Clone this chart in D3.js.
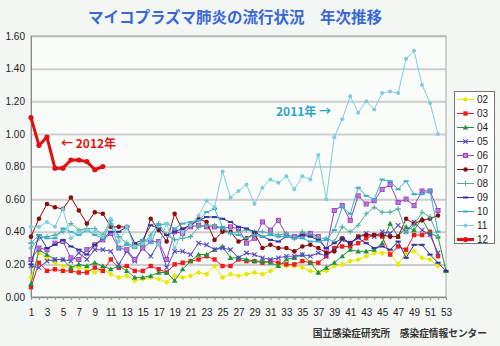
<!DOCTYPE html>
<html lang="ja">
<head>
<meta charset="utf-8">
<title>マイコプラズマ肺炎の流行状況 年次推移</title>
<script src="https://d3js.org/d3.v7.min.js"></script>
<style>
body { margin: 0; background: #f3f7f3; }
svg { display: block; }
</style>
</head>
<body>
<script>
// weekly reports per sentinel, 2002-2012
var yTicks = [0, 0.2, 0.4, 0.6, 0.8, 1.0, 1.2, 1.4, 1.6];
var weekLabels = d3.range(1, 54, 2);
var seriesNames = ["02", "03", "04", "05", "06", "07", "08", "09", "10", "11", "12"];

var s02 = [0.12,0.27,0.24,0.21,0.19,0.18,0.18,0.17,0.15,0.17,0.14,0.12,0.13,0.10,0.11,0.12,0.11,0.09,0.13,0.12,0.13,0.15,0.14,0.19,0.12,0.14,0.13,0.14,0.15,0.14,0.16,0.19,0.19,0.19,0.18,0.16,0.15,0.16,0.19,0.20,0.22,0.23,0.25,0.27,0.27,0.27,0.20,0.27,0.28,0.24,0.23,0.19];
var s03 = [0.06,0.21,0.16,0.17,0.16,0.16,0.15,0.15,0.18,0.16,0.23,0.18,0.19,0.16,0.16,0.19,0.17,0.15,0.20,0.21,0.22,0.23,0.25,0.23,0.19,0.19,0.23,0.22,0.22,0.21,0.22,0.21,0.20,0.20,0.22,0.21,0.21,0.25,0.30,0.31,0.31,0.33,0.36,0.38,0.37,0.26,0.31,0.29,0.38,0.38,0.40,0.25];
var s04 = [0.08,0.29,0.26,0.23,0.23,0.18,0.20,0.19,0.21,0.19,0.17,0.19,0.16,0.12,0.12,0.13,0.15,0.15,0.10,0.17,0.22,0.26,0.26,0.29,0.31,0.24,0.24,0.23,0.22,0.22,0.21,0.19,0.23,0.24,0.26,0.21,0.15,0.18,0.21,0.25,0.29,0.28,0.28,0.29,0.33,0.45,0.37,0.43,0.41,0.48,0.39,0.37,0.16];
var s05 = [0.19,0.18,0.22,0.23,0.23,0.22,0.27,0.23,0.29,0.29,0.28,0.20,0.28,0.22,0.30,0.25,0.33,0.18,0.28,0.28,0.26,0.33,0.32,0.29,0.30,0.29,0.24,0.27,0.26,0.24,0.23,0.24,0.25,0.25,0.26,0.25,0.27,0.25,0.29,0.35,0.33,0.37,0.39,0.37,0.40,0.39,0.44,0.40,0.46,0.41,0.38,0.27];
var s06 = [0.23,0.30,0.29,0.33,0.34,0.24,0.23,0.29,0.32,0.35,0.39,0.30,0.29,0.23,0.30,0.34,0.34,0.23,0.40,0.39,0.43,0.44,0.43,0.43,0.42,0.43,0.42,0.33,0.36,0.46,0.41,0.47,0.38,0.37,0.38,0.39,0.37,0.29,0.53,0.56,0.47,0.62,0.57,0.59,0.66,0.69,0.58,0.60,0.56,0.65,0.65,0.53];
var s07 = [0.37,0.48,0.57,0.55,0.54,0.61,0.53,0.45,0.52,0.51,0.43,0.43,0.43,0.32,0.33,0.48,0.41,0.34,0.51,0.41,0.44,0.48,0.46,0.35,0.40,0.40,0.34,0.36,0.39,0.30,0.32,0.30,0.30,0.28,0.31,0.32,0.30,0.27,0.28,0.36,0.33,0.37,0.38,0.38,0.38,0.37,0.37,0.48,0.45,0.47,0.48,0.50];
var s08 = [0.30,0.36,0.37,0.38,0.40,0.45,0.41,0.42,0.42,0.38,0.47,0.37,0.33,0.31,0.32,0.38,0.45,0.38,0.35,0.36,0.37,0.43,0.44,0.44,0.42,0.39,0.40,0.41,0.40,0.40,0.39,0.38,0.39,0.36,0.40,0.38,0.36,0.36,0.34,0.43,0.40,0.44,0.51,0.55,0.52,0.52,0.54,0.40,0.44,0.52,0.49,0.37];
var s09 = [0.20,0.38,0.30,0.32,0.35,0.31,0.29,0.26,0.32,0.36,0.40,0.40,0.43,0.33,0.35,0.44,0.42,0.38,0.40,0.42,0.44,0.47,0.49,0.49,0.48,0.46,0.43,0.42,0.40,0.37,0.35,0.34,0.37,0.36,0.38,0.37,0.35,0.30,0.33,0.36,0.33,0.36,0.33,0.30,0.31,0.29,0.34,0.24,0.32,0.32,0.26,0.21,0.16];
var s10 = [0.33,0.38,0.36,0.36,0.42,0.40,0.38,0.41,0.38,0.36,0.45,0.30,0.32,0.30,0.35,0.33,0.44,0.45,0.42,0.45,0.46,0.47,0.52,0.54,0.43,0.39,0.38,0.36,0.38,0.37,0.38,0.37,0.37,0.36,0.36,0.34,0.34,0.35,0.41,0.55,0.51,0.67,0.62,0.60,0.72,0.71,0.66,0.71,0.63,0.63,0.65,0.40];
var s11 = [0.43,0.43,0.46,0.43,0.54,0.36,0.40,0.41,0.40,0.37,0.48,0.34,0.43,0.31,0.33,0.36,0.32,0.45,0.30,0.40,0.44,0.50,0.59,0.55,0.77,0.61,0.65,0.69,0.57,0.67,0.72,0.70,0.74,0.66,0.74,0.72,0.87,0.60,0.98,1.09,1.23,1.13,1.20,1.15,1.25,1.26,1.25,1.46,1.51,1.30,1.19,1.00];
var s12 = [1.10,0.93,0.98,0.79,0.79,0.84,0.84,0.83,0.78,0.80];

var seriesValues = [s02, s03, s04, s05, s06, s07, s08, s09, s10, s11, s12];

// line colour, marker kind, line width
var styles = [
  {color: "#e8e800", mark: "diamond", w: 1},
  {color: "#ee1c1c", mark: "square", w: 1},
  {color: "#23933a", mark: "triangle", w: 1},
  {color: "#5448c8", mark: "times", w: 1},
  {color: "#9b3fc0", mark: "boxx", w: 1},
  {color: "#8a0c0c", mark: "circle", w: 1},
  {color: "#4fae9f", mark: "plus", w: 1},
  {color: "#333399", mark: "dash", w: 1},
  {color: "#36b0cf", mark: "dash", w: 1},
  {color: "#7ccce0", mark: "dot", w: 1},
  {color: "#e01010", mark: "bigcircle", w: 3}
];

var W = 500, H = 346;
var plotL = 31, plotR = 446, plotT = 36, plotB = 297;

var svg = d3.select("body").append("svg")
  .attr("width", W)
  .attr("height", H)
  .style("font-family", "'Liberation Sans', Arial, sans-serif");

var x = d3.scaleLinear().domain([1, 53]).range([plotL, plotR]);
var y = d3.scaleLinear().domain([0, 1.6]).range([plotB, plotT]);

// plot background
svg.append("rect")
  .attr("x", plotL).attr("y", plotT)
  .attr("width", plotR - plotL).attr("height", plotB - plotT)
  .attr("fill", "#fafcfa");

// gridlines
svg.append("g")
  .attr("transform", "translate(" + plotL + ",0)")
  .call(d3.axisLeft(y).tickValues(yTicks).tickSize(-(plotR - plotL)).tickFormat(""))
  .call(function(g) {
    g.select(".domain").remove();
    g.selectAll(".tick line").attr("stroke", "#cdcdcd").attr("stroke-width", 2);
  });

// plot frame
svg.append("rect")
  .attr("x", plotL).attr("y", plotT)
  .attr("width", plotR - plotL).attr("height", plotB - plotT)
  .attr("fill", "none")
  .attr("stroke", "#a8a8a8");

// y axis
svg.append("g")
  .attr("transform", "translate(" + plotL + ",0)")
  .call(d3.axisLeft(y).tickValues(yTicks).tickSize(0).tickPadding(6).tickFormat(d3.format(".2f")))
  .call(function(g) {
    g.select(".domain").attr("stroke", "#888");
    g.selectAll("text").attr("font-size", 10).attr("fill", "#222")
      .attr("font-family", "'Liberation Sans', Arial, sans-serif");
  });

// x axis: a tick every week, label every other week
svg.append("g")
  .attr("transform", "translate(0," + plotB + ")")
  .call(d3.axisBottom(x).tickValues(d3.range(1, 54)).tickSize(3).tickPadding(9)
    .tickFormat(function(d) { return weekLabels.indexOf(d) >= 0 ? d : ""; }))
  .call(function(g) {
    g.select(".domain").attr("stroke", "#888");
    g.selectAll(".tick line").attr("stroke", "#999");
    g.selectAll("text").attr("font-size", 10).attr("fill", "#222")
      .attr("font-family", "'Liberation Sans', Arial, sans-serif");
  });

function drawMark(g, kind, color) {
  if (kind === "diamond") {
    g.append("path").attr("d", "M0,-2.8L2.8,0L0,2.8L-2.8,0Z").attr("fill", color);
  } else if (kind === "square") {
    g.append("rect").attr("x", -2.2).attr("y", -2.2).attr("width", 4.4).attr("height", 4.4).attr("fill", color);
  } else if (kind === "triangle") {
    g.append("path").attr("d", "M0,-2.8L2.8,2.1L-2.8,2.1Z").attr("fill", color);
  } else if (kind === "times") {
    g.append("path").attr("d", "M-2.2,-2.2L2.2,2.2M-2.2,2.2L2.2,-2.2").attr("stroke", color).attr("stroke-width", 1.1);
  } else if (kind === "boxx") {
    g.append("rect").attr("x", -2).attr("y", -2).attr("width", 4).attr("height", 4)
      .attr("fill", "#d9b8ea").attr("stroke", color).attr("stroke-width", 1);
    g.append("path").attr("d", "M-2,-2L2,2M-2,2L2,-2").attr("stroke", color).attr("stroke-width", 0.8);
  } else if (kind === "circle") {
    g.append("circle").attr("r", 2.3).attr("fill", color);
  } else if (kind === "plus") {
    g.append("path").attr("d", "M-2.6,0L2.6,0M0,-2.6L0,2.6").attr("stroke", color).attr("stroke-width", 1.1);
  } else if (kind === "dash") {
    g.append("path").attr("d", "M-2.6,0L2.6,0").attr("stroke", color).attr("stroke-width", 2);
  } else if (kind === "dot") {
    g.append("circle").attr("r", 2).attr("fill", color);
  } else if (kind === "bigcircle") {
    g.append("circle").attr("r", 2.6).attr("fill", color);
  }
}

var line = d3.line()
  .x(function(d, i) { return x(i + 1); })
  .y(function(d) { return y(d); });

seriesValues.forEach(function(vals, k) {
  var st = styles[k];
  var g = svg.append("g").attr("class", "series s" + seriesNames[k]);
  g.append("path")
    .datum(vals)
    .attr("d", line)
    .attr("fill", "none")
    .attr("stroke", st.color)
    .attr("stroke-width", st.w)
    .attr("stroke-linejoin", "round");
  g.selectAll("g.pt")
    .data(vals)
    .enter()
    .append("g")
    .attr("class", "pt")
    .attr("transform", function(d, i) { return "translate(" + x(i + 1) + "," + y(d) + ")"; })
    .each(function() { drawMark(d3.select(this), st.mark, st.color); });
});

// legend
var legend = svg.append("g");
legend.append("rect")
  .attr("x", 454.5).attr("y", 91.5)
  .attr("width", 40).attr("height", 152)
  .attr("fill", "#ffffff")
  .attr("stroke", "#777");
seriesNames.forEach(function(name, k) {
  var st = styles[k];
  var ly = 99.5 + k * 14;
  legend.append("line")
    .attr("x1", 457).attr("x2", 474)
    .attr("y1", ly).attr("y2", ly)
    .attr("stroke", st.color)
    .attr("stroke-width", st.w);
  drawMark(legend.append("g").attr("transform", "translate(465.5," + ly + ")"), st.mark, st.color);
  legend.append("text")
    .attr("x", 477).attr("y", ly + 3.5)
    .attr("font-size", 10)
    .attr("fill", "#222")
    .text(name);
});

// title
svg.append("text")
  .attr("x", 235).attr("y", 23)
  .attr("text-anchor", "middle")
  .attr("font-family", "'Noto Sans CJK JP', sans-serif")
  .attr("font-weight", "bold")
  .attr("font-size", 15.5)
  .attr("fill", "#3a67d8")
  .text("マイコプラズマ肺炎の流行状況　年次推移");

// year callouts
svg.append("text")
  .attr("x", 61).attr("y", 148)
  .attr("font-family", "'Noto Sans CJK JP', sans-serif")
  .attr("font-weight", "bold")
  .attr("font-size", 12)
  .attr("fill", "#e01515")
  .text("← 2012年");

svg.append("text")
  .attr("x", 276).attr("y", 116)
  .attr("font-family", "'Noto Sans CJK JP', sans-serif")
  .attr("font-weight", "bold")
  .attr("font-size", 12)
  .attr("fill", "#2aa5cc")
  .text("2011年 →");

// source
svg.append("text")
  .attr("x", 487).attr("y", 337)
  .attr("text-anchor", "end")
  .attr("font-family", "'Noto Sans CJK JP', sans-serif")
  .attr("font-weight", "bold")
  .attr("font-size", 9.7)
  .attr("fill", "#333")
  .text("国立感染症研究所　感染症情報センター");
</script>
</body>
</html>
